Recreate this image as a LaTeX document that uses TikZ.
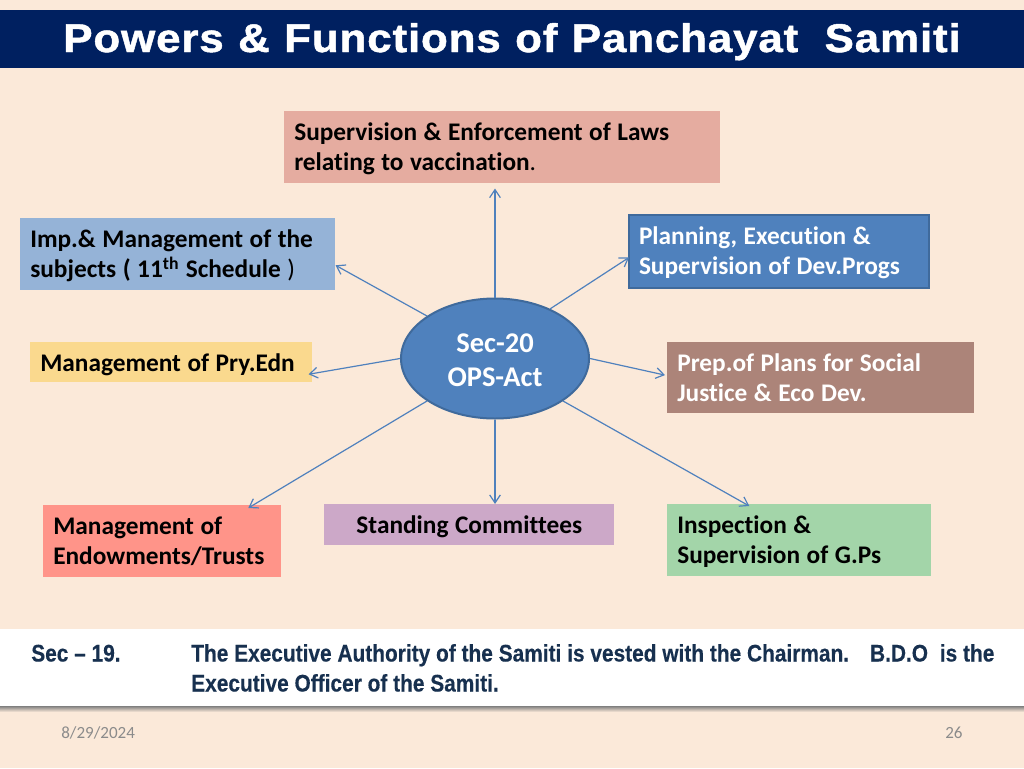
\documentclass[tikz,border=0pt]{standalone}
\usepackage{fontspec}
\setmainfont[Ligatures={NoCommon,TeX}]{Carlito}
\newfontfamily\slidetitlefont[LetterSpace=2,FakeStretch=1.1,FakeBold=1.2,WordSpace=1.1]{Liberation Sans}
\newfontfamily\notefont[FakeStretch=0.87,FakeBold=0.3]{Liberation Sans}
\usetikzlibrary{shapes.geometric,arrows.meta}
\definecolor{bgc}{HTML}{FBE9D9}
\definecolor{navy}{HTML}{002060}
\definecolor{supc}{HTML}{E5ACA0}
\definecolor{impc}{HTML}{95B3D7}
\definecolor{pryc}{HTML}{FAD98E}
\definecolor{planc}{HTML}{4F81BD}
\definecolor{planl}{HTML}{3F6A9C}
\definecolor{prepc}{HTML}{AC8479}
\definecolor{endc}{HTML}{FF9489}
\definecolor{stc}{HTML}{CCA8C8}
\definecolor{insc}{HTML}{A3D5A9}
\definecolor{notec}{HTML}{17304F}
\definecolor{foot}{HTML}{8B8B8B}
\newcommand\dnone{\rule{0pt}{15.5pt}}
\newcommand\dntwo{\rule{0pt}{17pt}}
\tikzset{
  x=0.75pt,y=-0.75pt,
  tb/.style n args={2}{rectangle,anchor=north west,minimum width=#1*0.75pt,minimum height=#2*0.75pt,
    inner xsep=7.5pt,inner ysep=0pt,text width=#1*0.75pt-15pt,align=left,
    font=\fontsize{19}{22.9}\selectfont\bfseries,text=black,
    execute at begin node={\spaceskip=4.9pt\relax}},
  conn/.style={draw=planc,line width=0.9pt,-{Straight Barb[length=6pt,width=8pt]}},
  ftxt/.style={anchor=base west,inner sep=0pt,text=foot,font=\fontsize{12.8}{15}\selectfont},
  note/.style={anchor=base west,inner sep=0pt,text=notec,font=\fontsize{18}{22.5}\selectfont\notefont\bfseries}
}
\begin{document}
\begin{tikzpicture}
\useasboundingbox (0,0) rectangle (1024,768);
\fill[bgc] (0,0) rectangle (1024,768);
\fill[navy] (0,10) rectangle (1024,68);
\node[anchor=base west,inner sep=0pt,text=white,font=\fontsize{30}{36}\selectfont\slidetitlefont\bfseries] (title) at (63,52) {Powers \& Functions of Panchayat\hspace{0.3em} Samiti};
\node[tb={436}{72},fill=supc] (sup) at (284,111) {\dnone Supervision \& Enforcement of Laws\\relating to vaccination{\mdseries .}};
\node[tb={315}{72},fill=impc] (imp) at (20,218) {\dnone Imp.\& Management of the\\subjects ( 11\textsuperscript{th} Schedule {\mdseries )}};
\node[tb={282}{40},fill=pryc] (pry) at (30,342) {\dntwo Management of Pry.Edn};
\node[tb={300}{73},fill=planc,draw=planl,line width=1.5pt,text=white] (plan) at (628,214) {\dnone Planning, Execution \&\\Supervision of Dev.Progs};
\node[tb={307}{71},fill=prepc,text=white] (prep) at (667,342) {Prep.of Plans for Social\\Justice \& Eco Dev.};
\node[tb={238}{72},fill=endc] (endw) at (43,505) {Management of\\Endowments/Trusts};
\node[tb={290}{41},fill=stc,align=center] (stand) at (324,504) {\dntwo Standing Committees};
\node[tb={264}{72},fill=insc] (insp) at (667,504) {\dnone Inspection \&\\Supervision of G.Ps};
\node[ellipse,draw=planl,line width=1.5pt,fill=planc,minimum width=141pt,minimum height=90pt,inner sep=0pt,align=center,text=white,font=\fontsize{21.4}{25.5}\selectfont\bfseries] (hub) at (495,358.5) {\rule{0pt}{16.5pt}Sec-20\\OPS-Act};
\draw[conn] (hub.90) -- ([yshift=-3.75pt]sup.south -| hub.90);
\draw[conn] (hub.148) -- ([yshift=-8.25pt]imp.east);
\draw[conn] (hub.180) -- ([xshift=-3pt,yshift=-9pt]pry.east);
\draw[conn] (hub.42) -- ([yshift=-4.5pt,xshift=0.75pt]plan.west);
\draw[conn] (hub.0) -- ([xshift=-1.5pt,yshift=2pt]prep.west);
\draw[conn] (hub.212.5) -- ([xshift=64.5pt,yshift=-2.25pt]endw.north);
\draw[conn] (hub.270) -- (stand.north -| hub.270);
\draw[conn] (hub.328) -- ([xshift=-37.5pt,yshift=-1.5pt]insp.north);
\shade[top color=black!50,bottom color=bgc] (0,706) rectangle (1024,712);
\fill[white] (0,629) rectangle (1024,706);
\node[note] (seclabel) at (31,661.5) {Sec – 19.};
\node[note] (secbody) at (191,661.5) {\parbox[t]{640pt}{The Executive Authority of the Samiti is vested with the Chairman.\hspace{0.55em} B.D.O\hspace{0.25em} is the\\Executive Officer of the Samiti.}};
\node[ftxt] (date) at (61,738) {8/29/2024};
\node[ftxt] (pagenum) at (945,738) {26};
\end{tikzpicture}
\end{document}
